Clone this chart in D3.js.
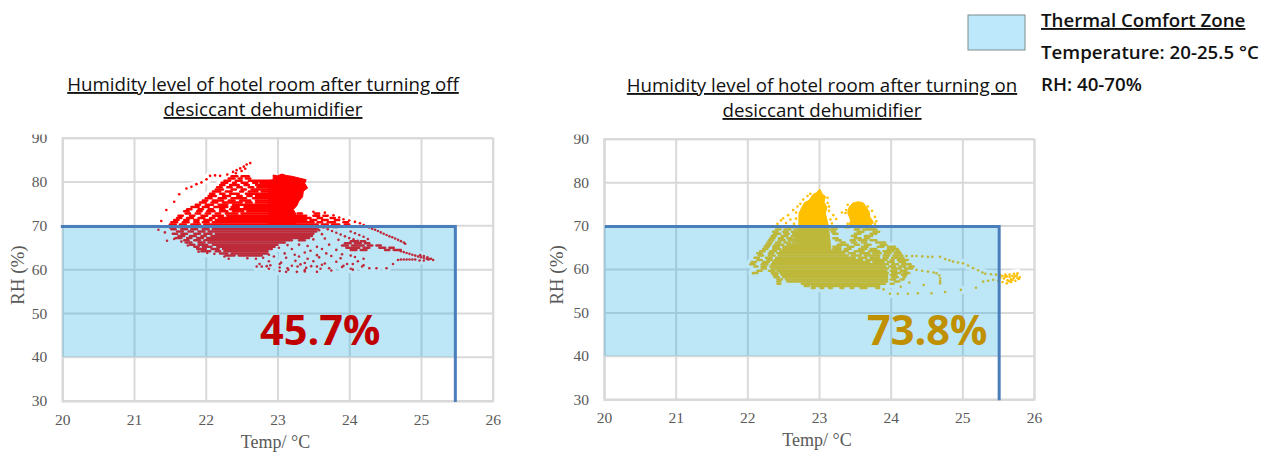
<!DOCTYPE html>
<html>
  <head>
    <title>Humidity level of hotel room</title>
    <meta charset="utf-8">
    <style>
      body { margin: 0; background: #fff; overflow: hidden; }
      .grid line, .grid path { stroke: #d9d9d9; stroke-width: 2; }
      .tick text { font-family: "Liberation Serif", serif; font-size: 15.5px; fill: #595959; }
      .axis-title { font-family: "Liberation Serif", serif; font-size: 18px; fill: #595959; text-anchor: middle; }
      .title { font-family: "Open Sans", sans-serif; font-size: 18.7px; fill: #111; text-anchor: middle; text-decoration: underline; }
      .legend { font-family: "Open Sans", sans-serif; font-size: 18.7px; font-weight: 600; fill: #111; }
      .share { font-family: "Open Sans", sans-serif; font-size: 41.5px; font-weight: 700; }
    </style>
  </head>
  <body>
    <script src="https://d3js.org/d3.v7.min.js"></script>
    <script>
      const xTicks = [20, 21, 22, 23, 24, 25, 26]
      const yTicks = [30, 40, 50, 60, 70, 80, 90]
      const zoneTemp = [20, 25.5]
      const zoneRH = [40, 70]

      const titlesOff = ["Humidity level of hotel room after turning off", "desiccant dehumidifier"]
      const titlesOn = ["Humidity level of hotel room after turning on", "desiccant dehumidifier"]
      const legendLines = ["Thermal Comfort Zone", "Temperature: 20-25.5 °C", "RH: 40-70%"]

      // where the points overplot solid, only the outline can be read: [temp, rh]
      const offSolid = [[[22.88,70],[22.88,80.2],[22.94,80.4],[22.94,81.5],[23,81.3],[23.06,81.7],[23.12,81.4],[23.2,81.2],[23.3,80.8],[23.4,80.4],[23.38,79.6],[23.42,78.5],[23.36,77.8],[23.35,76.5],[23.3,75.6],[23.27,74.5],[23.22,73.6],[23.25,72.8],[23.25,70]]]
      const onSolid = [
        [[22.72,64],[22.72,72.8],[22.76,74.2],[22.8,75.3],[22.86,75.8],[22.92,77.2],[22.97,77.6],[23.01,78.4],[23.05,77.2],[23.09,76.7],[23.07,75.4],[23.11,74.2],[23.09,72.8],[23.13,70],[23.17,64]],
        [[23.42,70],[23.44,71.2],[23.4,73],[23.42,74.2],[23.47,75.2],[23.55,75.5],[23.62,75.2],[23.66,74.2],[23.7,73.2],[23.71,72],[23.76,70.8],[23.72,70]]
      ]

      // overplotted runs of points read row by row: [rh, from, to, from, to, ...]
      const offRuns = [
        [81.2,22.36,22.44,22.5,22.6],[80.7,22.32,22.4,22.46,22.5,22.56,22.62],[80.2,22.26,22.34,22.42,22.5,22.6,22.94],
        [79.7,22.22,22.3,22.38,22.42,22.5,22.58,22.66,22.72,22.76,22.9],[79.2,22.2,22.26,22.34,22.46,22.54,22.6,22.7,22.9],
        [78.7,22.16,22.22,22.3,22.36,22.44,22.5,22.6,22.66,22.72,22.9],[78.2,22.14,22.24,22.36,22.42,22.5,22.56,22.64,22.9],
        [77.7,22.1,22.2,22.28,22.36,22.48,22.52,22.6,22.72,22.78,22.9],[77.2,22.06,22.12,22.2,22.26,22.34,22.46,22.56,22.9],
        [76.7,22.04,22.14,22.24,22.34,22.44,22.5,22.58,22.64,22.7,22.9],[76.2,22,22.08,22.18,22.28,22.36,22.56,22.66,22.9],
        [75.7,21.96,22.02,22.1,22.24,22.32,22.4,22.48,22.62,22.7,22.9],[75.2,21.92,22,22.08,22.16,22.24,22.5,22.56,22.64,22.7,22.9],
        [74.7,21.86,21.92,22,22.1,22.18,22.3,22.38,22.9],[74.2,21.8,21.9,21.96,22.04,22.12,22.3,22.36,22.46,22.54,22.9],
        [73.7,21.74,21.8,21.9,21.96,22.04,22.1,22.2,22.26,22.34,22.9],[73.2,21.7,21.76,21.88,21.94,22.02,22.12,22.2,22.3,22.38,22.52,22.58,22.9],
        [72.7,21.72,21.78,21.86,21.92,22,22.06,22.14,22.2,22.28,22.44,22.5,22.9,23.28,23.34,23.52,23.58],
        [72.2,21.62,21.68,21.78,21.84,21.94,22.02,22.1,22.24,22.3,22.9,23.26,23.4,23.5,23.58,23.64,23.7],
        [71.7,21.6,21.66,21.74,21.82,21.9,21.98,22.06,22.12,22.18,22.9,23.25,23.46,23.56,23.62,23.74,23.8],
        [71.2,21.56,21.62,21.7,21.76,21.84,21.9,21.98,22.08,22.14,22.9,23.25,23.4,23.46,23.54,23.62,23.7,23.8,23.86],
        [70.7,21.52,21.6,21.68,21.76,21.84,21.9,21.96,22.04,22.1,22.9,23.25,23.5,23.56,23.62,23.7,23.8,23.92,23.98],
        [70.2,21.5,21.58,21.64,21.72,21.8,21.92,21.98,22.9,23.25,23.56,23.62,23.7,23.76,23.86,23.94,24],
        [69.6,21.5,21.56,21.62,21.7,21.78,21.86,21.92,22.02,22.08,23.6,23.66,23.72,23.78,23.84],
        [69.1,21.52,21.58,21.66,21.74,21.8,21.88,21.96,22.04,22.1,23.56],[68.6,21.6,21.68,21.76,21.82,21.9,21.98,22.04,23.54],
        [68.1,21.54,21.6,21.66,21.74,21.84,21.92,21.98,22.08,22.14,23.5],[67.6,21.62,21.7,21.78,21.86,21.94,22,22.08,23.48],
        [67.1,21.58,21.66,21.74,21.8,21.88,21.96,22.02,23.44],[66.6,21.7,21.76,21.84,21.92,21.98,23.2,23.3,23.38],
        [66.1,21.72,21.8,21.9,21.98,22.04,23.1],[65.6,21.78,21.84,21.9,22.02,22.1,23],[65.1,21.84,21.9,21.96,22.08,22.16,22.96],
        [64.6,21.88,22,22.08,22.18,22.24,22.92],[64.1,21.94,22.06,22.14,22.2,22.26,22.86],[63.6,22.2,22.3,22.36,22.86],[63.1,22.28,22.4,22.46,22.78],
        [66.4,24.02,24.1,24.16,24.22],[65.9,23.94,24.02,24.08,24.16,24.22,24.28],[65.4,23.9,23.98,24.04,24.2,24.26,24.32,24.38,24.44],
        [64.9,23.96,24.14,24.2,24.28,24.42,24.5,24.56,24.62],[64.4,24.02,24.1,24.16,24.24,24.5,24.56,24.62,24.72]
      ]
      const onRuns = [
        [69.6,22.42,22.48,22.58,22.64,23.2,23.26,23.36,23.42,23.5,23.6,23.66,23.78],[69.1,22.4,22.46,22.52,22.6,22.66,22.72,23.16,23.24,23.5,23.56,23.62,23.8],
        [68.6,22.36,22.42,22.5,22.56,22.62,22.72,23.18,23.22,23.54,23.62,23.76,23.84],[68.1,22.38,22.46,22.52,22.58,22.64,22.72,23.2,23.26,23.5,23.58,23.72,23.8],
        [67.6,22.34,22.4,22.48,22.56,22.62,22.72,23.46,23.52,23.64,23.74],[67.1,22.32,22.38,22.44,22.5,22.56,22.62,22.66,22.72,23.2,23.26,23.5,23.58,23.64,23.7],
        [66.6,22.3,22.36,22.44,22.52,22.58,22.72,23.24,23.3,23.44,23.5,23.56,23.66,23.72,23.8],[66.1,22.28,22.34,22.4,22.46,22.52,22.6,22.64,22.72,23.3,23.36,23.46,23.52,23.6,23.66,23.8,23.92],
        [65.6,22.26,22.32,22.38,22.5,22.56,22.72,23.26,23.4,23.5,23.56,23.64,23.72,23.86,23.94],[65.1,22.24,22.3,22.36,22.44,22.5,22.72,23.2,23.3,23.4,23.48,23.6,23.68,23.82,23.9,23.96,24.06],
        [64.6,22.22,22.28,22.36,22.46,22.5,22.72,23.2,23.3,23.36,23.44,23.56,23.66,23.72,23.8,23.96,24.1],[64.1,22.18,22.24,22.32,22.4,22.46,23.3,23.34,23.4,23.5,23.62,23.7,23.84,23.9,24.04,24.08,24.12],
        [63.6,22.14,22.2,22.3,22.36,22.42,23.35,23.42,23.5,23.58,23.7,23.76,23.86,23.92,24,24.06,24.14],[63.1,22.16,22.22,22.3,22.38,22.44,23.4,23.46,23.58,23.64,23.84,23.9,23.98,24.04,24.16],
        [62.6,22.1,22.16,22.26,22.34,22.4,23.5,23.56,23.66,23.72,23.84,23.9,23.96,24.02,24.18],[62.1,22.14,22.2,22.28,22.34,22.38,23.6,23.66,23.94,24,24.04,24.1,24.24],
        [61.6,22.06,22.12,22.22,22.3,22.36,23.7,23.76,23.9,23.96,24.04,24.12,24.2],[61.1,22.04,22.1,22.2,22.28,22.34,23.96,24.02,24.1,24.16,24.28],
        [60.6,22.1,22.14,22.2,22.26,22.32,23.92,23.98,24.06,24.12,24.2,24.26,24.32],[60.1,22.2,22.26,22.34,23.96,24.02,24.14,24.2,24.3],
        [59.6,22.14,22.2,22.3,22.38,22.42,23.94,24,24.08,24.14,24.22,24.28],[59.1,22.08,22.14,22.34,22.42,22.46,23.96,24.02,24.14,24.18,24.26],
        [58.6,22.36,22.42,22.48,23.95,24,24.08,24.16,24.22],[58.1,22.38,22.44,22.5,23.95,24.02,24.1,24.18,24.2],
        [57.6,22.42,22.48,22.54,23.95,24,24.06,24.14,24.18],[57.1,22.42,22.46,22.56,23.95,24.06,24.12],
        [56.6,22.42,22.46,22.76,23.92,24,24.04],[56.1,22.8,22.86,22.9,23.84],
        [55.6,22.9,22.94,23.02,23.06,23.14,23.18,23.3,23.34,23.44,23.48,23.58,23.66,23.8,23.84]
      ]

      // points that stand alone: [temp, rh]
      const offPoints = [
        [21.38,71],[21.45,73.5],[21.56,75.4],[21.63,77.1],[21.73,78.4],[21.8,78.8],[21.87,79.4],[21.94,79.8],[22.01,80.5],[22.06,81.3],[22.13,81.4],[22.2,81.3],[22.3,81.6],[22.38,82.2],[22.43,82.6],[22.48,83],[22.53,83.4],[22.57,83.9],[22.62,84.2],[22.42,81.9],[22.5,82.4],[22.55,82.9],
        [21.34,69],[21.43,68.4],[21.46,66.5],[21.5,69.5],[21.56,66.9],[21.66,66.3],[21.75,65.4],[21.9,64],[22.02,63.7],[22.12,63.5],[22.26,62.9],[22.32,62.4],[22.58,62.5],[22.7,62.4],
        [23.5,73.1],[23.66,72.9],[23.78,72.3],[23.86,71.8],[23.92,71.4],[24,71.1],[24.08,70.8],[24.15,70.5],[24.2,70.1],[24.24,69.8],[24.28,69.5],[24.32,69.2],[24.36,69],[24.4,68.7],[24.44,68.4],[24.48,68.1],[24.52,67.8],[24.56,67.5],[24.6,67.3],[24.64,67],[24.68,66.7],[24.72,66.4],[24.76,66.1],[24.78,65.8],
        [24.02,68.6],[24.08,68.2],[24.14,67.8],[24.2,67.4],[24.26,66.9],[23.64,69.5],[23.7,69.1],[23.76,68.7],[23.82,68.3],[23.88,67.9],[23.94,67.5],[24,67.1],[24.06,66.8],[24.12,66.5],
        [24.72,64.1],[24.76,63.9],[24.8,63.7],[24.84,63.5],[24.88,63.3],[24.92,63.1],[24.96,62.9],[25,62.7],[25.04,62.6],[25.08,62.4],[25.12,62.3],[25.17,62.1],[24.68,62.1],[24.72,62.2],[24.76,62.2],[24.8,62.2],[24.84,62.2],[24.88,62.2],[24.92,62.2],[24.98,62],[25.04,62],[25.1,62.2],[24.99,63.2],[25.04,63],[25.09,62.7],[25.14,62.4],
        [23.58,68.9],[23.62,68],[23.5,66.8],[23.66,67],[23.85,66.7],[23.3,65.6],[23.14,65.5],[23.42,65.3],[23.55,65.1],[23.72,65.6],[23.02,64.9],[23.2,64.6],[23.46,64.2],[23.62,64.6],[23.82,64.4],
        [22.88,63.3],[23.1,63.6],[23.24,63.3],[23.38,63.8],[23.55,63.2],[23.68,63.6],[23.9,63.4],[24.02,63.1],[22.8,62.6],[22.95,62.9],[23.12,62.6],[23.3,62.9],[23.42,62.4],[23.58,62.7],[23.75,63],[23.88,62.5],[24.08,62.8],[24.2,62.4],
        [22.88,61.8],[23.05,61.5],[23.25,61.9],[23.38,61.4],[23.5,61.8],[23.66,61.3],[23.82,61.7],[23.97,61.2],[24.12,61.8],[22.75,61.2],[22.9,60.9],[23.03,61.2],[23.2,60.8],[23.32,61.1],[23.47,60.7],[23.62,61],[23.92,60.8],[24.05,61.2],[24.2,60.9],[24.61,61.2],
        [22.71,60.6],[22.78,60.6],[22.85,60.7],[23.03,60.4],[23.14,60.2],[23.28,60.6],[23.4,60.3],[23.55,60.6],[23.72,60.2],[23.9,60.5],[24.02,60.1],[24.18,60.6],[24.28,60.2],[22.88,60.1],[23.15,59.9],[23.38,59.8],[23.6,60.1],[23.75,59.7],[24.05,59.9],[24.38,60.2],[24.52,60.2],
        [23.03,59.6],[23.12,59.4],[23.27,59.4],[23.38,59.5],[23.55,59.4]
      ]
      const onPoints = [
        [22.42,70.4],[22.47,71.2],[22.5,71.7],[22.57,72.4],[22.6,71.4],[22.64,73.6],[22.68,73],[22.54,70.6],[22.65,70.4],[22.7,74.4],[22.68,71.6],[22.74,75],[22.78,76],[22.84,76.8],[22.88,77.3],[23.14,74.4],[23.12,75.2],[23.14,73.4],[23.12,76.4],[23.2,72.4],[23.16,71.4],[23.24,71.5],[23.18,70.5],[23.32,73],[23.37,72.9],[23.4,70.4],[23.8,71],[23.78,70.4],[23.38,73.6],[23.4,74.8],[23.68,74.4],[23.74,73.4],[23.78,72],
        [22.06,61.3],[22.08,59],[22.18,63.2],[22.32,65.9],[22.36,67.8],[24.22,63],[24.3,63],[24.36,63],[24.44,62.9],[24.52,62.8],[24.58,62.8],[24.69,62.8],[24.76,62.3],[24.82,62],[24.87,61.7],[24.94,61.5],[25.01,61.3],[25.08,60.8],[25.15,60.2],[25.22,59.7],[25.28,59.2],[25.32,58.9],[25.4,58.8],[25.47,58.7],[25.53,58.6],
        [24.28,60.3],[24.36,59.8],[24.44,59.6],[24.52,59.4],[24.6,59.2],[24.64,59],[24.68,58.5],[24.69,57.8],[24.69,57.2],[24.69,56.7],[24.26,56.9],[24.46,56.3],[24.14,55.9],[23.9,55.3],[23.99,54.3],[24.1,54.3],[24.24,54.3],[24.38,54.4],[24.57,54.4],
        [24.76,54.7],[24.98,55.2],[25.19,55.7],[25.29,57.1],[25.36,57.3],[25.43,57.5],[25.5,57.3],[25.56,57],[25.62,56.7],[25.68,57],[25.74,57.3],[25.79,57.7],[25.8,58.1],[25.76,58.5],[25.72,58.9],[25.66,58.7],[25.6,58.7],[25.56,58.4],[25.53,58],[25.58,57.8],[25.63,57.4],[25.68,57.6],[25.72,58],[25.66,58.2],[25.74,58.4],[25.77,59],[25.6,58.2],[25.7,58.4],[25.77,57.9],[25.65,57.2],[25.7,57.5],[25.62,58.3]
      ]

      const toSegments = rows => rows.flatMap(([rh, ...t]) => d3.range(0, t.length, 2).map(i => [[t[i], rh], [t[i + 1], rh]]))

      const svg = d3.select("body").append("svg").attr("width", 1263).attr("height", 452)

      function drawChart(c) {
        const x = d3.scaleLinear().domain([20, 26]).range([c.left, c.right])
        const y = d3.scaleLinear().domain([30, 90]).range([c.bottom, c.top])
        const segments = toSegments(c.runs)
        const open = d3.line().x(d => x(d[0])).y(d => y(d[1]))
        const closed = d3.line().x(d => x(d[0])).y(d => y(d[1])).curve(d3.curveLinearClosed)
        const g = svg.append("g")

        g.append("g").attr("class", "grid").attr("transform", "translate(0," + c.bottom + ")")
          .call(d3.axisBottom(x).tickValues(xTicks).tickSize(c.top - c.bottom).tickFormat(""))
        g.append("g").attr("class", "grid").attr("transform", "translate(" + c.left + ",0)")
          .call(d3.axisLeft(y).tickValues(yTicks).tickSize(c.left - c.right).tickFormat(""))

        // the plot was pasted with a white glow round the points
        g.selectAll(".halo").data(c.points).enter().append("circle")
          .attr("cx", d => x(d[0])).attr("cy", d => y(d[1])).attr("r", 4.5).attr("fill", "#fff")
        g.selectAll(".halo-run").data(segments).enter().append("path")
          .attr("d", open).attr("stroke", "#fff").attr("stroke-width", 9).attr("stroke-linecap", "round")

        g.selectAll(".solid").data(c.solid).enter().append("path")
          .attr("d", closed).attr("fill", c.color).attr("stroke", c.color)
        g.selectAll(".run").data(segments).enter().append("path")
          .attr("d", open).attr("stroke", c.color).attr("stroke-width", 2.5).attr("stroke-linecap", "round")
        g.selectAll(".point").data(c.points).enter().append("circle")
          .attr("cx", d => x(d[0])).attr("cy", d => y(d[1])).attr("r", 1.3).attr("fill", c.color)

        // translucent zone on top of the points, this tints them
        g.append("rect")
          .attr("x", x(zoneTemp[0])).attr("width", x(zoneTemp[1]) - x(zoneTemp[0]))
          .attr("y", y(zoneRH[1])).attr("height", y(zoneRH[0]) - y(zoneRH[1]))
          .attr("fill", "#00a3df").attr("opacity", 0.26)
        // the boundary was drawn by hand over the picture, a little off the axes
        g.append("path")
          .attr("transform", "translate(" + c.lineShift + ")")
          .attr("d", open([[zoneTemp[0], zoneRH[1]], [zoneTemp[1], zoneRH[1]], [zoneTemp[1], 30]]))
          .attr("fill", "none").attr("stroke", "#4a7ebb").attr("stroke-width", 3)

        g.append("g").attr("transform", "translate(0," + (c.bottom + 10) + ")")
          .call(d3.axisBottom(x).tickValues(xTicks).tickSize(0).tickFormat(d3.format("d")))
          .call(a => a.select(".domain").remove())
        g.append("g").attr("transform", "translate(" + (c.left - 12) + ",0)")
          .call(d3.axisLeft(y).tickValues(yTicks).tickSize(0))
          .call(a => a.select(".domain").remove())

        g.append("text").attr("class", "axis-title").attr("x", (c.left + c.right) / 2 - 2).attr("y", c.bottom + 47).text("Temp/ °C")
        g.append("text").attr("class", "axis-title").style("font-size", "19px")
          .attr("transform", "translate(" + c.yTitleX + "," + (y(60) + 6) + ") rotate(-90)").text("RH (%)")

        g.append("text").attr("class", "share").attr("x", c.shareX).attr("y", 345).attr("fill", c.shareColor).text(c.share)
      }

      drawChart({ left: 62.3, right: 492.7, bottom: 400.7, top: 137.7, color: "#ff0000", solid: offSolid, runs: offRuns, points: offPoints,
        share: "45.7%", shareX: 260, shareColor: "#c00000", lineShift: [-1.5, 1.2], yTitleX: 24 })
      drawChart({ left: 604, right: 1034, bottom: 399.3, top: 138.7, color: "#ffc000", solid: onSolid, runs: onRuns, points: onPoints,
        share: "73.8%", shareX: 867, shareColor: "#bf9000", lineShift: [1, 1], yTitleX: 563 })

      // text box of the titles sits over the top axis label
      svg.append("rect").attr("width", 1263).attr("height", 134.5).attr("fill", "#fff")

      svg.selectAll(".t1").data(titlesOff).enter().append("text").attr("class", "title")
        .attr("x", 263).attr("y", (d, i) => 91 + i * 25).text(d => d)
      svg.selectAll(".t2").data(titlesOn).enter().append("text").attr("class", "title")
        .attr("x", 822).attr("y", (d, i) => 92 + i * 25).text(d => d)

      svg.append("rect").attr("x", 968).attr("y", 15).attr("width", 57).attr("height", 35)
        .attr("fill", "#bde7fa").attr("stroke", "#7f8c8d")
      svg.selectAll(".legend").data(legendLines).enter().append("text").attr("class", "legend")
        .attr("x", 1041).attr("y", (d, i) => 27 + i * 32)
        .style("text-decoration", (d, i) => i === 0 ? "underline" : "none").text(d => d)
    </script>
  </body>
</html>
